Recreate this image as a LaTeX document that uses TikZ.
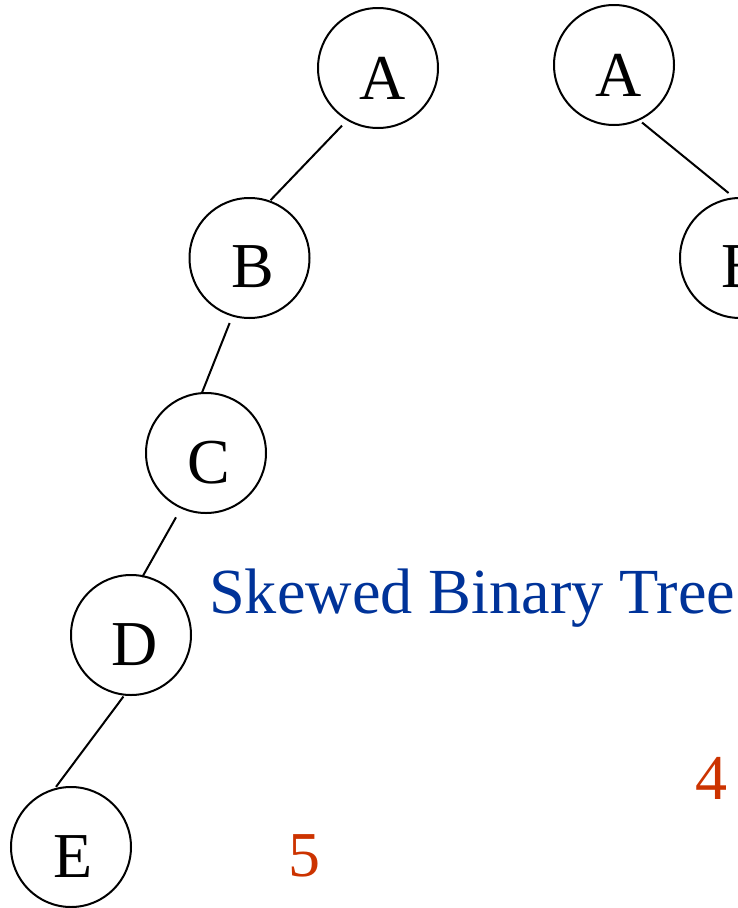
\documentclass[tikz,border=0pt]{standalone}
\usepackage{fontspec}
\setmainfont{Liberation Serif}
\usetikzlibrary{calc}
\definecolor{titleblue}{HTML}{003399}
\definecolor{numred}{HTML}{CC3300}
\begin{document}
\begin{tikzpicture}[x=1pt,y=-1pt,
  circ/.style={circle,draw=black,line width=2pt,minimum size=120pt,inner sep=0pt},
  lbl/.style={anchor=base,inner sep=0pt,font=\fontsize{64}{70}\selectfont},
  edge/.style={line width=2pt},
  num/.style={anchor=base,inner sep=0pt,text=numred,font=\fontsize{64}{70}\selectfont}]
\useasboundingbox (0,0) rectangle (737,908);
% left tree
\node[circ] (A1) at (378,68) {};
\node[circ] (B1) at (249.5,258) {};
\node[circ] (C1) at (206,453) {};
\node[circ] (D1) at (131,635) {};
\node[circ] (E1) at (71,847) {};
\node[lbl] (A1t) at ([shift={(5,31)}]A1.center) {A};
\node[lbl] (B1t) at ([shift={(3,29)}]B1.center) {B};
\node[lbl] (C1t) at ([shift={(3,30)}]C1.center) {C};
\node[lbl] (D1t) at ([shift={(4,30)}]D1.center) {D};
\node[lbl] (E1t) at ([shift={(2,30)}]E1.center) {E};
\draw[edge] ($(A1.center)+(-122:68pt)$) -- ($(B1.center)+(70:61.5pt)$);
\draw[edge] ($(B1.center)+(-107:68pt)$) -- ($(C1.center)+(94:60pt)$);
\draw[edge] ($(C1.center)+(-115:71pt)$) -- ($(D1.center)+(79:59pt)$);
\draw[edge] ($(D1.center)+(-97:62pt)$) -- ($(E1.center)+(104:62pt)$);
% right tree (cut off at the right edge, as in the reference)
\node[circ] (A2) at (614,65) {};
\node[circ] (B2) at (740,258) {};
\node[lbl] (A2t) at ([shift={(5,31)}]A2.center) {A};
\node[lbl] (B2t) at ([shift={(3,29)}]B2.center) {B};
\draw[edge] ($(A2.center)+(-64:64pt)$) -- ($(B2.center)+(100:66pt)$);
% texts
\node[anchor=base west,inner sep=0pt,text=titleblue,font=\fontsize{64.3}{70}\selectfont] (title) at (209,613) {Skewed Binary Tree};
\node[num] (n5) at (304,876) {5};
\node[num] (n4) at (711,799) {4};
\end{tikzpicture}
\end{document}
